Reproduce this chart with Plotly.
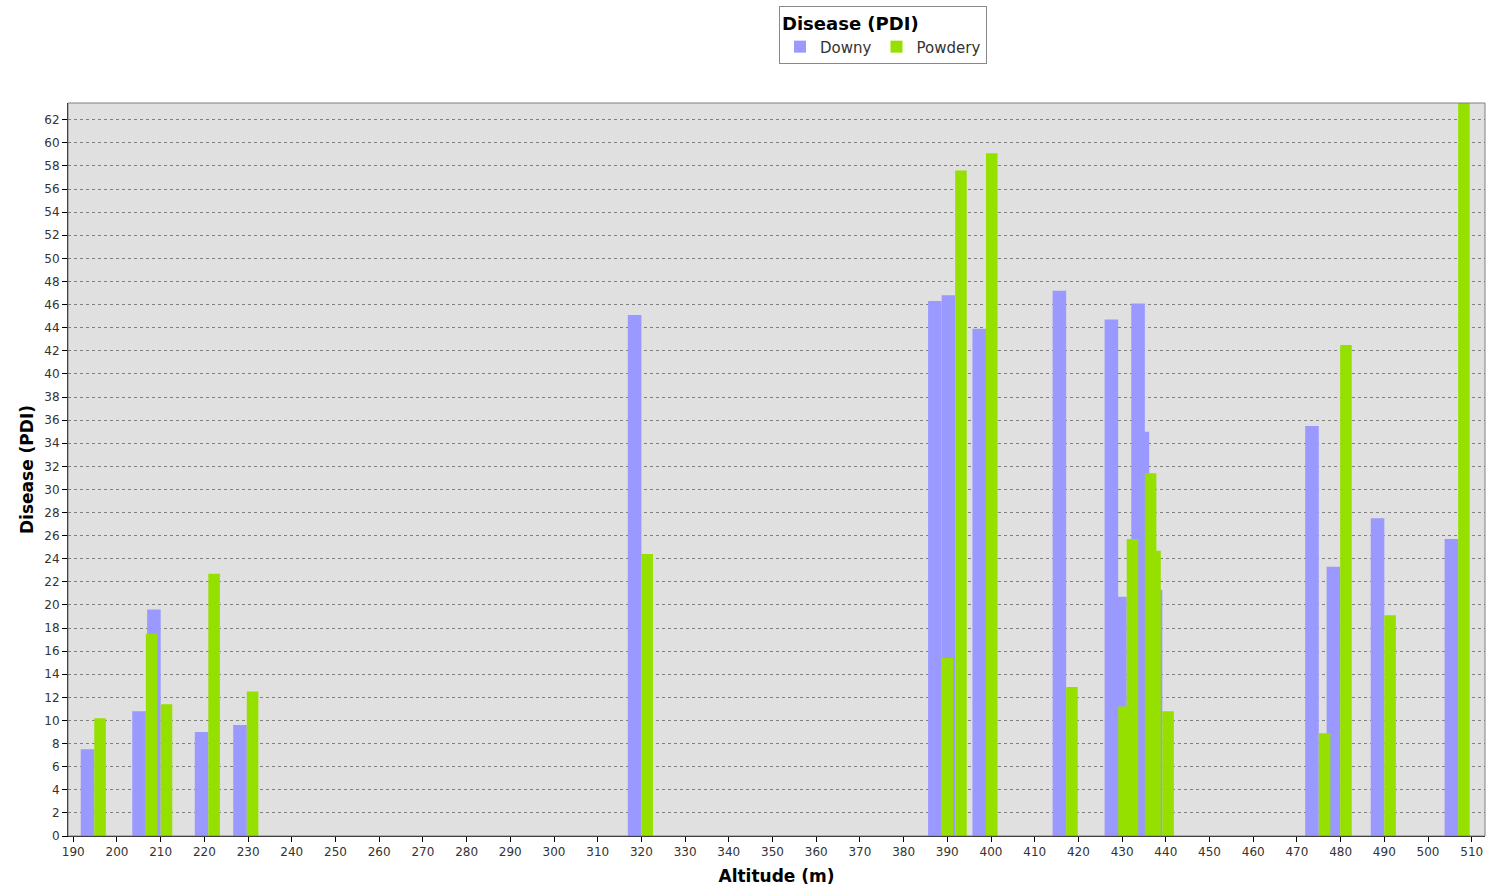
import plotly.graph_objects as go

# ----- Data -----
altitude = [194.8, 206.6, 210.0, 220.9, 229.7, 320.0, 388.7, 391.8, 398.85,
            417.2, 429.1, 431.05, 435.2, 436.2, 439.2, 475.0, 479.9, 490.0, 506.9]
downy = [7.5, 10.8, 19.6, 9.0, 9.6, 45.1, 46.3, 46.8, 43.9,
         47.2, 44.7, 20.7, 46.1, 35.0, 21.3, 35.5, 23.3, 27.5, 25.7]
powdery = [10.2, 17.5, 11.4, 22.7, 12.5, 24.4, 15.4, 57.6, 59.1,
           12.9, 11.2, 25.7, 31.4, 24.7, 10.8, 8.9, 42.5, 19.1, 64.0]

x_ticks = list(range(190, 511, 10))
y_ticks = list(range(0, 63, 2))

FONT = "DejaVu Sans, Verdana, sans-serif"
DOWNY_COL = "#9999FF"
POWDERY_COL = "#96E000"

fig = go.Figure()

# downy bars sit just left of the altitude, powdery just right
fig.add_trace(go.Bar(x=altitude, y=downy, name="Downy", width=3.1, offset=-3.1,
                     marker=dict(color=DOWNY_COL, line=dict(width=0))))
fig.add_trace(go.Bar(x=altitude, y=powdery, name="Powdery", width=2.65, offset=0,
                     marker=dict(color=POWDERY_COL, line=dict(width=0))))

fig.update_layout(
    width=1488, height=890,
    barmode="overlay",
    paper_bgcolor="white",
    plot_bgcolor="#E0E0E0",
    margin=dict(l=68, r=3, t=103, b=54),
    font=dict(family=FONT, size=12, color="#333333"),
    legend=dict(
        title=dict(text="<b>Disease (PDI)</b>", side="top",
                   font=dict(size=18, color="black")),
        orientation="h",
        xref="container", yref="container",
        x=779 / 1488, xanchor="left",
        y=1 - 6 / 890, yanchor="top",
        bgcolor="white", bordercolor="#888888", borderwidth=1,
        font=dict(size=15, color="#333333"),
        itemwidth=30, tracegroupgap=0,
    ),
    showlegend=True,
)

fig.update_xaxes(
    range=[188.79, 513.04], tickvals=x_ticks, ticks="outside", ticklen=5,
    tickcolor="black", showgrid=False, zeroline=False, automargin=False,
    showline=True, linecolor="black", linewidth=1,
    tickfont=dict(size=12, color="#333333"),
    title=dict(text="<b>Altitude (m)</b>", font=dict(size=17, color="black"),
               standoff=11),
)
fig.update_yaxes(
    range=[0, 63.45], tickvals=y_ticks, ticks="outside", ticklen=5,
    tickcolor="black", showgrid=True, gridcolor="#808080", griddash="dot",
    gridwidth=1, zeroline=False, automargin=False,
    showline=True, linecolor="black", linewidth=1,
    tickfont=dict(size=12, color="#333333"),
    title=dict(text="<b>Disease (PDI)</b>", font=dict(size=17, color="black"),
               standoff=6),
)

# grey frame around the plot area
fig.add_shape(type="rect", xref="paper", yref="paper", x0=0, y0=0, x1=1, y1=1,
              line=dict(color="#808080", width=1), layer="above")

# drop the default body margin so the figure sits flush in the window
fig.write_html("out.html", config={"displayModeBar": False},
               post_script="document.body.style.margin='0';")
